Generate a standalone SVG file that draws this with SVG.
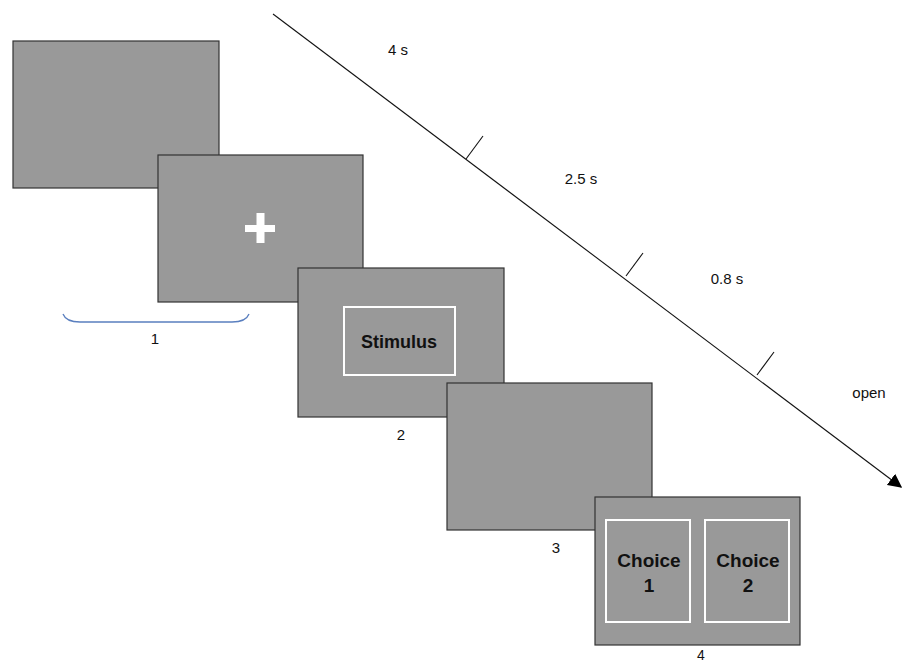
<svg xmlns="http://www.w3.org/2000/svg" width="902" height="665" viewBox="0 0 902 665">
<defs>
<style>
.screen{fill:#999999;stroke:#333333;stroke-width:1.2}
.inner{fill:none;stroke:#ffffff;stroke-width:2}
.lbl{font-family:"Liberation Sans",Arial,sans-serif;font-size:15px;fill:#111;text-anchor:middle}
.big{font-family:"Liberation Sans",Arial,sans-serif;font-size:18px;font-weight:bold;fill:#111;text-anchor:middle}
.ch{font-size:19px}
.tl{stroke:#111;stroke-width:1.1;fill:none}
</style>
<marker id="arr" viewBox="0 0 10 10" refX="9" refY="5" markerWidth="14" markerHeight="14" markerUnits="userSpaceOnUse" orient="auto">
<path d="M0,0 L10,5 L0,10 z" fill="#000"/>
</marker>
</defs>
<rect width="902" height="665" fill="#ffffff"/>
<g id="connectors">
<line class="tl" x1="273" y1="14" x2="901" y2="487" marker-end="url(#arr)"/>
<line class="tl" x1="466" y1="159" x2="483" y2="136"/>
<line class="tl" x1="626" y1="276" x2="643" y2="253"/>
<line class="tl" x1="757" y1="375" x2="774" y2="352"/>
</g>
<g id="timing-labels">
<text class="lbl" x="398" y="55">4 s</text>
<text class="lbl" x="581" y="184">2.5 s</text>
<text class="lbl" x="727" y="284">0.8 s</text>
<text class="lbl" x="869" y="398">open</text>
</g>
<g id="screen1">
<rect class="screen" x="13" y="41" width="206" height="147"/>
</g>
<g id="screen2">
<rect class="screen" x="158" y="155" width="205" height="147"/>
<rect x="245" y="225" width="30" height="7" fill="#ffffff"/>
<rect x="256.5" y="213" width="8" height="30" fill="#ffffff"/>
</g>
<g id="brace1">
<path d="M63,314 Q66,322 80,322 L232,322 Q246,322 249,314" fill="none" stroke="#5a7fbf" stroke-width="1.3"/>
<text class="lbl" x="155" y="344">1</text>
</g>
<g id="screen3">
<rect class="screen" x="298" y="268" width="206" height="149"/>
<rect class="inner" x="344" y="307" width="111" height="68"/>
<text class="big" x="399" y="348">Stimulus</text>
<text class="lbl" x="401" y="440">2</text>
</g>
<g id="screen4">
<rect class="screen" x="447" y="383" width="205" height="147"/>
<text class="lbl" x="556" y="553">3</text>
</g>
<g id="screen5">
<rect class="screen" x="595" y="497" width="205" height="148"/>
<rect class="inner" x="606" y="520" width="84" height="102"/>
<rect class="inner" x="705" y="520" width="84" height="102"/>
<text class="big ch" x="649" y="567">Choice</text>
<text class="big ch" x="649" y="592">1</text>
<text class="big ch" x="748" y="567">Choice</text>
<text class="big ch" x="748" y="592">2</text>
<text class="lbl" x="701" y="660" style="font-size:14px">4</text>
</g>
</svg>
